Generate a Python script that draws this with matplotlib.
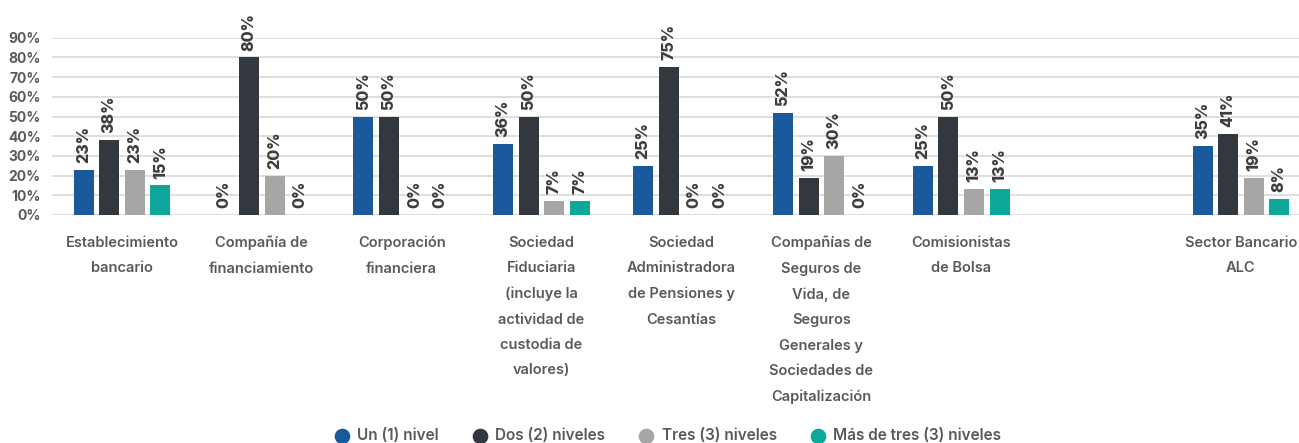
import numpy as np
import matplotlib.pyplot as plt

plt.rcParams['font.family'] = ['Inter', 'DejaVu Sans']

categorias = [
    "Establecimiento\nbancario",
    "Compañía de\nfinanciamiento",
    "Corporación\nfinanciera",
    "Sociedad\nFiduciaria\n(incluye la\nactividad de\ncustodia de\nvalores)",
    "Sociedad\nAdministradora\nde Pensiones y\nCesantías",
    "Compañías de\nSeguros de\nVida, de\nSeguros\nGenerales y\nSociedades de\nCapitalización",
    "Comisionistas\nde Bolsa",
    "",
    "Sector Bancario\nALC",
]

series = ["Un (1) nivel", "Dos (2) niveles", "Tres (3) niveles", "Más de tres (3) niveles"]
un_nivel = [23, 0, 50, 36, 25, 52, 25, None, 35]
dos_niveles = [38, 80, 50, 50, 75, 19, 50, None, 41]
tres_niveles = [23, 20, 0, 7, 0, 30, 13, None, 19]
mas_de_tres = [15, 0, 0, 7, 0, 0, 13, None, 8]

colores = ["#1a5a9c", "#33373e", "#a6a6a6", "#0ea79b"]
yticks = [0, 10, 20, 30, 40, 50, 60, 70, 80, 90]

fig = plt.figure(figsize=(12.99, 4.43), dpi=100)
ax = fig.add_axes([0.040, 0.5147, 0.967, 0.4])  # bottom at 0%, top at 90%

x = np.arange(len(categorias))
paso = 0.183
ancho = 0.143
datos = [un_nivel, dos_niveles, tres_niveles, mas_de_tres]

for i, (vals, color, nombre) in enumerate(zip(datos, colores, series)):
    pos = x + (i - 1.5) * paso
    for p, v in zip(pos, vals):
        if v is None:
            continue
        ax.bar(p, v, width=ancho, color=color, zorder=3)
        ax.annotate(f"{v}%", (p, v), xytext=(0, 5), textcoords="offset points",
                    rotation=90, ha="center", va="bottom", fontsize=11.5,
                    fontweight="heavy", color="#3d3d3d", zorder=4)
    # proxy for legend
    ax.scatter([], [], s=105, color=color, label=nombre)

ax.set_xlim(-0.5, 8.48)
ax.set_ylim(0, 90)
ax.set_yticks(yticks)
ax.set_yticklabels([f"{t}%" for t in yticks], fontsize=10, color="#595959",
                   fontweight="bold")
ax.set_xticks(x)
ax.set_xticklabels(categorias, fontsize=10.5, color="#595959",
                   fontweight="semibold", linespacing=2.03, va="top")
ax.tick_params(axis="both", length=0)
ax.tick_params(axis="x", pad=15)
ax.tick_params(axis="y", pad=8)
ax.grid(axis="y", color="#d9d9d9", linewidth=1.2, zorder=0)
for s in ax.spines.values():
    s.set_visible(False)

fig.legend(loc="lower center", bbox_to_anchor=(0.511, -0.03), ncol=4, frameon=False,
           labelcolor="#595959", handletextpad=0.0, columnspacing=1.7,
           prop={"weight": "semibold", "size": 11})

fig.savefig("out.png", dpi=100)
